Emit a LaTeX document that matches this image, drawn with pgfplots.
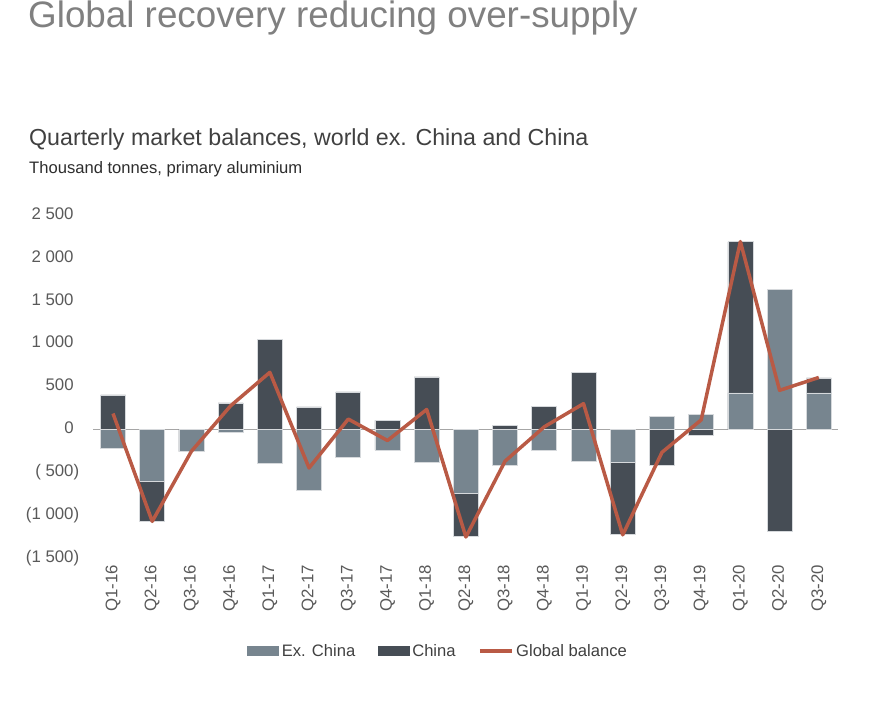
\documentclass[border=0pt]{standalone}
\usepackage{fontspec}
\setmainfont{Liberation Sans}
\usepackage{pgfplots}
\usepackage{pgfplotstable}
\pgfplotsset{compat=1.18}
\definecolor{exc}{HTML}{77858F}
\definecolor{chn}{HTML}{464D55}
\definecolor{glb}{HTML}{B95A45}
\definecolor{zer}{HTML}{A6A6A6}
\definecolor{edg}{HTML}{D6D9DC}
\definecolor{ttl}{HTML}{808080}
\definecolor{sub}{HTML}{404040}
\definecolor{tck}{HTML}{595959}
\pgfplotsset{
  legbox/.style={legend image code/.code={\fill[##1] (0pt,-5pt) rectangle (32pt,5pt);}},
  legline/.style={legend image code/.code={\draw[##1] (0pt,0pt) -- (32pt,0pt);}},
}

\pgfplotstableread{
idx ex cn glob
0 -222 401 185
1 -605 -468 -1073
2 -254 -8 -255
3 -35 308 275
4 -394 1053 665
5 -713 261 -450
6 -324 436 120
7 -242 105 -130
8 -386 612 232
9 -745 -506 -1255
10 -421 47 -370
11 -242 269 30
12 -374 667 300
13 -390 -838 -1230
14 147 -421 -268
15 179 -75 110
16 425 1762 2190
17 1633 -1186 455
18 425 175 605
}\datatable

\begin{document}
\begin{tikzpicture}
\useasboundingbox (0,0) rectangle (889pt,701pt);
\node[anchor=base west, inner sep=0pt, text=ttl, font=\fontsize{36.8}{40}\selectfont] at (28pt,673pt) {Global recovery reducing over-supply};
\node[anchor=base west, inner sep=0pt, text=sub, font=\fontsize{23.2}{26}\selectfont] at (29pt,555pt) {Quarterly market balances, world ex. China and China};
\node[anchor=base west, inner sep=0pt, text=sub!70!black, font=\fontsize{16.6}{19}\selectfont] at (29pt,527pt) {Thousand tonnes, primary aluminium};
\begin{axis}[
  at={(93.4pt,143pt)}, anchor=south west,
  scale only axis, width=745pt, height=343pt,
  xmin=-0.5, xmax=18.5, ymin=-1500, ymax=2500,
  axis line style={draw=none}, major tick length=0pt,
  ytick={-1500,-1000,-500,0,500,1000,1500,2000,2500},
  yticklabels={(1 500),(1 000),( 500),0\phantom{)},500\phantom{)},1 000\phantom{)},1 500\phantom{)},2 000\phantom{)},2 500\phantom{)}},
  xtick={0,...,18},
  xticklabels={Q1-16,Q2-16,Q3-16,Q4-16,Q1-17,Q2-17,Q3-17,Q4-17,Q1-18,Q2-18,Q3-18,Q4-18,Q1-19,Q2-19,Q3-19,Q4-19,Q1-20,Q2-20,Q3-20},
  tick label style={text=tck, font=\fontsize{16.8}{19}\selectfont},
  xticklabel style={rotate=90, anchor=east, inner sep=0pt, xshift=-7pt},
  yticklabel style={anchor=east, inner sep=0pt, xshift=-14pt},
  extra y ticks={0}, extra y tick labels={},
  extra y tick style={grid=major, major grid style={draw=zer, line width=1.6pt}},
  legend columns=3,
  legend style={at={(0.463,-0.271)}, anchor=center, draw=none, fill=none,
    font=\fontsize{16.6}{19}\selectfont, text=sub,
    nodes={inner sep=2.5pt},
    /tikz/every even column/.append style={column sep=20pt}},
  legend cell align=left,
]
\addplot[ybar, bar width=25pt, bar shift=0pt, fill=chn, draw=edg, line width=0.7pt, forget plot]
  table[x=idx, y expr={ifthenelse(\thisrow{ex}*\thisrow{cn}>0, \thisrow{ex}+\thisrow{cn}, \thisrow{cn})}] {\datatable};
\addplot[ybar, bar width=25pt, bar shift=0pt, fill=exc, draw=edg, line width=0.7pt, forget plot]
  table[x=idx, y=ex] {\datatable};
\addplot[glb, line width=3.5pt, line join=round, forget plot]
  table[x=idx, y=glob] {\datatable};
\addlegendimage{legbox, fill=exc, draw=none}
\addlegendentry{Ex. China}
\addlegendimage{legbox, fill=chn, draw=none}
\addlegendentry{China}
\addlegendimage{legline, draw=glb, line width=3.5pt}
\addlegendentry{Global balance}
\end{axis}
\end{tikzpicture}
\end{document}
